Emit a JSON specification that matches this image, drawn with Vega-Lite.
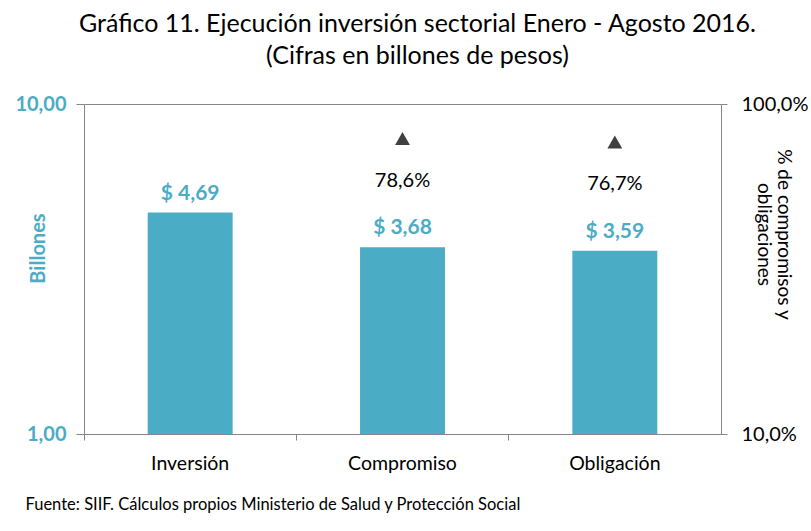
{
  "$schema": "https://vega.github.io/schema/vega-lite/v6.json",
  "width": 637,
  "height": 330,
  "autosize": {"type": "none"},
  "padding": {"left": 84, "top": 104, "right": 90, "bottom": 97},
  "background": "white",
  "config": {
    "font": "Lato",
    "view": {"stroke": null},
    "axis": {"domainColor": "#868686", "tickColor": "#868686", "gridColor": "#868686"}
  },
  "title": {
    "text": ["Gráfico 11. Ejecución inversión sectorial  Enero - Agosto 2016.", "(Cifras en billones de pesos)"],
    "fontSize": 25,
    "fontWeight": "normal",
    "font": "Lato",
    "color": "#000000",
    "lineHeight": 32,
    "anchor": "middle",
    "frame": "group",
    "dx": 15,
    "offset": 25
  },
  "data": {
    "values": [
      {"cat": "Inversión", "value": 4.69, "vlabel": "$ 4,69", "pct": null, "plabel": ""},
      {"cat": "Compromiso", "value": 3.68, "vlabel": "$ 3,68", "pct": 0.786, "plabel": "78,6%"},
      {"cat": "Obligación", "value": 3.59, "vlabel": "$ 3,59", "pct": 0.767, "plabel": "76,7%"}
    ]
  },
  "encoding": {
    "x": {
      "field": "cat",
      "type": "nominal",
      "sort": null,
      "scale": {"paddingInner": 0, "paddingOuter": 0},
      "axis": {
        "title": "Fuente: SIIF. Cálculos propios Ministerio de Salud y Protección Social",
        "titleFontSize": 16.5,
        "titleFontWeight": "normal",
        "titleColor": "#000000",
        "titleAnchor": "start",
        "titleAlign": "left",
        "titleBaseline": "alphabetic",
        "titleX": -59,
        "titleY": 75,
        "labelAngle": 0,
        "labelFontSize": 19.5,
        "labelColor": "#000000",
        "labelPadding": 14,
        "tickSize": 6,
        "bandPosition": 0,
        "domain": true
      }
    }
  },
  "layer": [
    {
      "layer": [
        {
          "mark": {"type": "bar", "color": "#4BACC6", "width": {"band": 0.4}},
          "encoding": {
            "y": {
              "field": "value",
              "type": "quantitative",
              "stack": null,
              "scale": {"type": "log", "domain": [1, 10], "nice": false},
              "axis": {
                "title": "Billones",
                "titleFontSize": 20,
                "titleFontWeight": "bold",
                "titleColor": "#4BACC6",
                "titleX": -46,
                "titleY": 144,
                "titleBaseline": "middle",
                "values": [1, 10],
                "labelExpr": "replace(format(datum.value, '.2f'), '.', ',')",
                "labelFontSize": 20,
                "labelFontWeight": "bold",
                "labelColor": "#4BACC6",
                "labelPadding": 10,
                "tickSize": 8,
                "grid": true,
                "gridOpacity": 1
              }
            },
            "y2": {"datum": 1}
          }
        },
        {
          "mark": {"type": "text", "dy": -19, "fontSize": 21, "fontWeight": "bold", "color": "#4BACC6", "baseline": "middle"},
          "encoding": {
            "y": {"field": "value", "type": "quantitative"},
            "text": {"field": "vlabel"}
          }
        }
      ]
    },
    {
      "transform": [{"filter": "datum.pct != null"}],
      "layer": [
        {
          "mark": {"type": "point", "shape": "triangle-up", "filled": true, "color": "#404040", "size": 220, "opacity": 1},
          "encoding": {
            "y": {
              "field": "pct",
              "type": "quantitative",
              "scale": {"type": "log", "domain": [0.1, 1], "nice": false},
              "axis": {
                "orient": "right",
                "title": ["% de compromisos y", "obligaciones"],
                "titleFontSize": 19,
                "titleFontWeight": "normal",
                "titleColor": "#000000",
                "titleLineHeight": 20,
                "titleBaseline": "top",
                "titleX": 71,
                "titleY": 130,
                "values": [0.1, 1],
                "labelExpr": "replace(format(datum.value * 100, '.1f'), '.', ',') + '%'",
                "labelFontSize": 20,
                "labelColor": "#000000",
                "labelPadding": 14,
                "tickSize": 6,
                "grid": false
              }
            }
          }
        },
        {
          "mark": {"type": "text", "dy": 42, "fontSize": 20, "color": "#000000", "baseline": "middle"},
          "encoding": {
            "y": {"field": "pct", "type": "quantitative"},
            "text": {"field": "plabel"}
          }
        }
      ]
    }
  ],
  "resolve": {"scale": {"y": "independent"}}
}
